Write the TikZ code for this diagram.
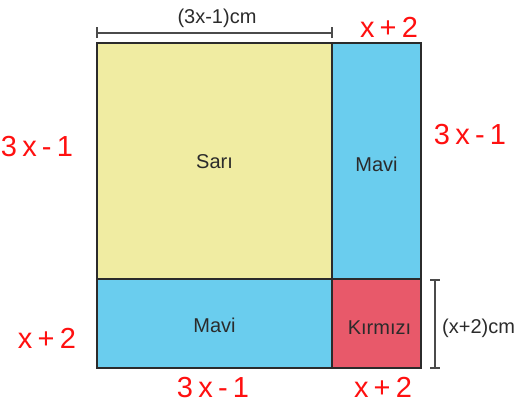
\documentclass[tikz,border=0pt]{standalone}
\usepackage{fontspec}
\setmainfont{Liberation Sans}
\newfontfamily\hand[LetterSpace=18]{Liberation Sans}
\definecolor{sari}{HTML}{F0ECA2}
\definecolor{mavi}{HTML}{6ACDEE}
\definecolor{kirmizi}{HTML}{E8596A}
\definecolor{ink}{HTML}{2B2B2B}
\definecolor{pen}{HTML}{FF1010}
\begin{document}
\begin{tikzpicture}[x=1pt,y=-1pt,
  box/.style={draw=ink,line width=1.8pt,inner sep=0pt,outer sep=0pt,anchor=north west,
    font=\fontsize{20}{24}\selectfont,text=ink},
  dimlbl/.style={font=\fontsize{20}{24}\selectfont,text=ink,inner sep=0pt},
  dimline/.style={draw=ink!85,line width=1.1pt},
  red/.style={font=\hand\fontsize{29}{31}\selectfont,text=pen,inner sep=0pt}]
\useasboundingbox (0,0) rectangle (514,407);
\node[box,fill=sari,minimum width=235pt,minimum height=236pt] (sari) at (97,43) {};
\node[box,fill=mavi,minimum width=89pt,minimum height=236pt] (mavi1) at (332,43) {};
\node[box,fill=mavi,minimum width=235pt,minimum height=89pt] (mavi2) at (97,279) {};
\node[box,fill=kirmizi,minimum width=89pt,minimum height=89pt] (kirm) at (332,279) {};
\node[dimlbl] at ([yshift=-1pt]sari.center) {Sarı};
\node[dimlbl] at ([yshift=-3pt]mavi1.center) {Mavi};
\node[dimlbl] at ([yshift=-2pt]mavi2.center) {Mavi};
\node[dimlbl] at ([xshift=3pt,yshift=-4pt]kirm.center) {Kırmızı};
% top dimension
\coordinate (t1) at (97,33);
\coordinate (t2) at (332,33);
\draw[dimline] (t1) -- (t2);
\draw[dimline] ([yshift=-5pt]t1) -- ([yshift=6pt]t1);
\draw[dimline] ([yshift=-5pt]t2) -- ([yshift=6pt]t2);
\node[dimlbl] (toplbl) at (217,18) {(3x-1)cm};
% right dimension
\coordinate (r1) at (435,280);
\coordinate (r2) at (435,368);
\draw[dimline] (r1) -- (r2);
\draw[dimline] ([xshift=-5pt]r1) -- ([xshift=5pt]r1);
\draw[dimline] ([xshift=-5pt]r2) -- ([xshift=5pt]r2);
\node[dimlbl,anchor=west] (rlbl) at (442,328) {(x+2)cm};
% handwritten labels
\node[red] (h1) at (389,27) {x+2};
\node[red] (h2) at (470,135) {3x-1};
\node[red] (h3) at (37,147) {3x-1};
\node[red] (h4) at (47,338) {x+2};
\node[red] (h5) at (213,388) {3x-1};
\node[red] (h6) at (383,387) {x+2};
\end{tikzpicture}
\end{document}
